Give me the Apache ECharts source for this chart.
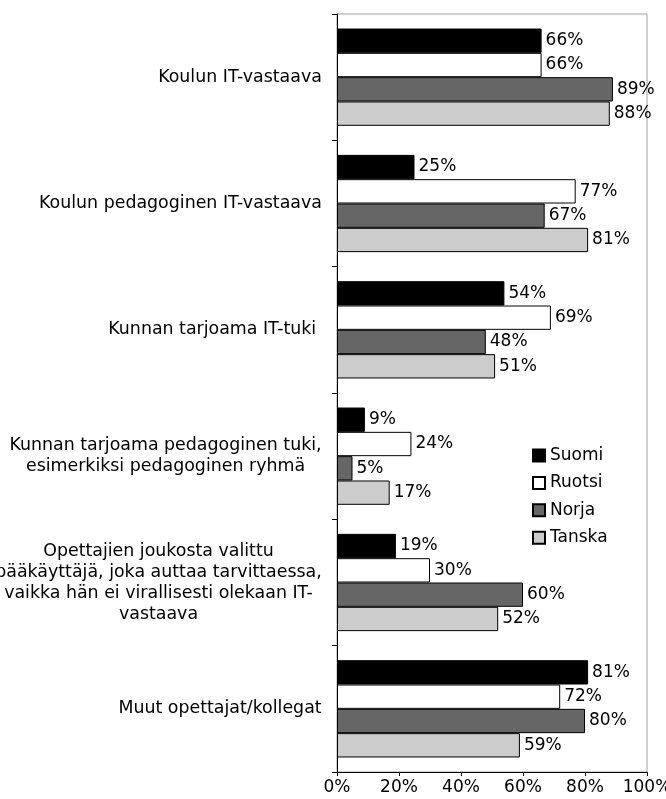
<!DOCTYPE html>
<html>
<head>
<meta charset="utf-8">
<script src="https://cdn.jsdelivr.net/npm/echarts@6/dist/echarts.min.js"></script>
<style>
  html, body { margin: 0; padding: 0; background: #fff; }
  #main { width: 666px; height: 799px; }
</style>
</head>
<body>
<div id="main"></div>
<script>
// kategoriat (rivinvaihdot kuten alkuperäisessä)
const categories = [
  'Koulun IT-vastaava',
  'Koulun pedagoginen IT-vastaava',
  'Kunnan tarjoama IT-tuki ',
  'Kunnan tarjoama pedagoginen tuki,\nesimerkiksi pedagoginen ryhmä',
  'Opettajien joukosta valittu\npääkäyttäjä, joka auttaa tarvittaessa,\nvaikka hän ei virallisesti olekaan IT-\nvastaava',
  'Muut opettajat/kollegat'
];
const suomi = [66, 25, 54, 9, 19, 81];
const ruotsi = [66, 77, 69, 24, 30, 72];
const norja = [89, 67, 48, 5, 60, 80];
const tanska = [88, 81, 51, 17, 52, 59];
const xTicks = [0, 20, 40, 60, 80, 100];

const FONT = '"DejaVu Sans", Verdana, sans-serif';
const FS = 17;
const CAT_FS = 17.4;

// mitataan rivien leveys, jotta monirivinen teksti keskitetään mutta lohko tasataan oikealle
const ctx = document.createElement('canvas').getContext('2d');
ctx.font = CAT_FS + 'px ' + FONT;
const rich = {};
categories.forEach((c, i) => {
  const w = Math.max(...c.split('\n').map(l => ctx.measureText(l).width));
  rich['c' + i] = { width: Math.ceil(w), align: 'center', fontSize: CAT_FS, fontFamily: FONT, color: '#000', lineHeight: 21 };
});

const myChart = echarts.init(document.getElementById('main'));
const barSeries = (name, data, color) => ({
  name: name,
  type: 'bar',
  data: data,
  barGap: '0%',
  barCategoryGap: '23%',
  itemStyle: { color: color, borderColor: '#000', borderWidth: 1 },
  label: {
    show: true,
    position: 'right',
    distance: 4,
    formatter: '{c}%',
    color: '#000',
    fontSize: FS,
    fontFamily: FONT
  }
});

myChart.setOption({
  animation: false,
  textStyle: { fontFamily: FONT },
  grid: {
    left: 337, right: 19, top: 14, bottom: 27,
    outerBoundsMode: 'none',
    containLabel: false,
    show: true, borderColor: '#a0a0a0', borderWidth: 1
  },
  legend: {
    orient: 'vertical',
    left: 532,
    top: 447,
    padding: 0,
    icon: 'rect',
    itemWidth: 12,
    itemHeight: 12,
    itemGap: 10.4,
    textStyle: { fontSize: FS, fontFamily: FONT, color: '#000' },
    data: ['Suomi', 'Ruotsi', 'Norja', 'Tanska']
  },
  xAxis: {
    type: 'value',
    min: xTicks[0],
    max: xTicks[xTicks.length - 1],
    interval: 20,
    splitLine: { show: false },
    axisLine: { show: true, lineStyle: { color: '#000' } },
    axisTick: { show: true, length: 4, lineStyle: { color: '#000' } },
    axisLabel: { formatter: '{value}%', color: '#000', fontSize: FS, fontFamily: FONT, margin: 7 }
  },
  yAxis: {
    type: 'category',
    inverse: true,
    data: categories,
    axisLine: { show: true, lineStyle: { color: '#000' } },
    axisTick: { show: true, length: 5, lineStyle: { color: '#000' } },
    axisLabel: {
      margin: 15,
      align: 'right',
      formatter: (v, i) => v.split('\n').map(l => '{c' + i + '|' + l + '}').join('\n'),
      rich: rich
    }
  },
  series: [
    barSeries('Suomi', suomi, '#000000'),
    barSeries('Ruotsi', ruotsi, '#ffffff'),
    barSeries('Norja', norja, '#666666'),
    barSeries('Tanska', tanska, '#cccccc')
  ]
});
</script>
</body>
</html>
